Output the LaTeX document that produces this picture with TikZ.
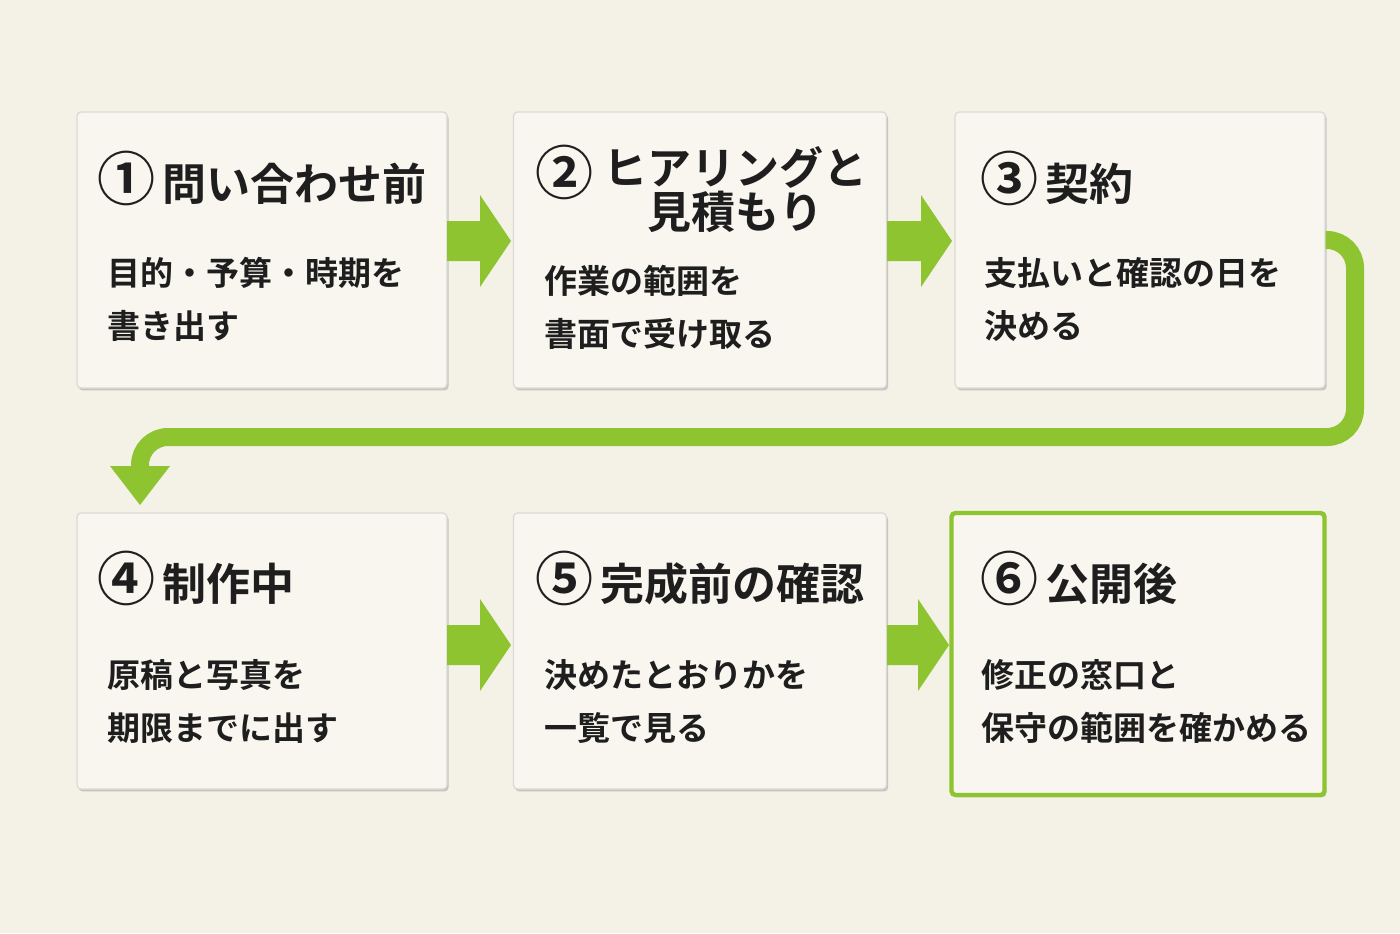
\documentclass[tikz,border=0pt]{standalone}
\usepackage{fontspec}
\setmainfont{Noto Sans CJK JP}[BoldFont={* Bold}]
\usetikzlibrary{shadows,calc}
\definecolor{bg}{HTML}{F4F1E7}
\definecolor{card}{HTML}{F8F6EF}
\definecolor{grn}{HTML}{8DC430}
\definecolor{ink}{HTML}{1E1E1E}
\newcommand{\cnum}[1]{{\fontsize{29}{24}\selectfont #1}}
\begin{document}
\begin{tikzpicture}[x=0.5pt,y=-0.5pt,
  box/.style={draw=black!15,line width=0.6pt,fill=card,rounded corners=2pt,minimum width=185pt,minimum height=138pt,inner sep=0pt,
    drop shadow={shadow xshift=0.8pt,shadow yshift=-1.2pt,fill=black,opacity=0.18}},
  ttl/.style={font=\bfseries\fontsize{22}{24}\selectfont,text=ink,anchor=west,align=left},
  ttlc/.style={font=\bfseries\fontsize{22}{24}\selectfont,text=ink,align=center},
  bod/.style={font=\bfseries\fontsize{16.5}{26.5}\selectfont,text=ink,anchor=north west,align=left}]
\fill[bg] (0,0) rectangle (1400,933);
\useasboundingbox (0,0) rectangle (1400,933);
\node[box] (b1) at (262,250) {};
\node[box,minimum width=186.5pt] (b2) at (700,250) {};
\node[box] (b3) at (1140,250) {};
\node[box] (b4) at (262,651) {};
\node[box,minimum width=186.5pt] (b5) at (700,651) {};
\node[box,draw=grn,line width=2.2pt,minimum width=186.5pt,minimum height=141pt] (b6) at (1138,654) {};
% titles
\node[ttl] (t1) at (90,178) {\cnum{①}\,問い合わせ前};
\node[ttl] (t2n) at (528,172) {\cnum{②}};
\node[ttlc] (t2) at (735,190) {ヒアリングと\\[-2pt]見積もり};
\node[ttl] (t3) at (973,178) {\cnum{③}\,契約};
\node[ttl] (t4) at (90,578) {\cnum{④}\,制作中};
\node[ttl] (t5) at (528,578) {\cnum{⑤}\,完成前の確認};
\node[ttl] (t6) at (973,578) {\cnum{⑥}\,公開後};
% bodies
\node[bod] (d1) at (100,250) {目的・予算・時期を\\書き出す};
\node[bod] (d2) at (537,258) {作業の範囲を\\書面で受け取る};
\node[bod] (d3) at (977,250) {支払いと確認の日を\\決める};
\node[bod] (d4) at (100,652) {原稿と写真を\\期限までに出す};
\node[bod] (d5) at (537,652) {決めたとおりかを\\一覧で見る};
\node[bod] (d6) at (974,652) {修正の窓口と\\保守の範囲を確かめる};
% block arrows
\foreach \xa/\xb/\yy in {447/514/241,887/955/241,447/514/645,887/952/645}{
  \fill[grn] (\xa,\yy-20) -- (\xb-34,\yy-20) -- (\xb-34,\yy-46) -- (\xb-3,\yy) -- (\xb-34,\yy+46) -- (\xb-34,\yy+20) -- (\xa,\yy+20) -- cycle;
}
% long connector
\coordinate (c1) at (1353,240);
\draw[grn,line width=9pt,rounded corners=14pt] (b3.east|-c1) -- (1355,240) -- (1355,437) -- (140,437) -- (140,468);
\fill[grn] (110,466) -- (170,466) -- (140,505) -- cycle;
\end{tikzpicture}
\end{document}
